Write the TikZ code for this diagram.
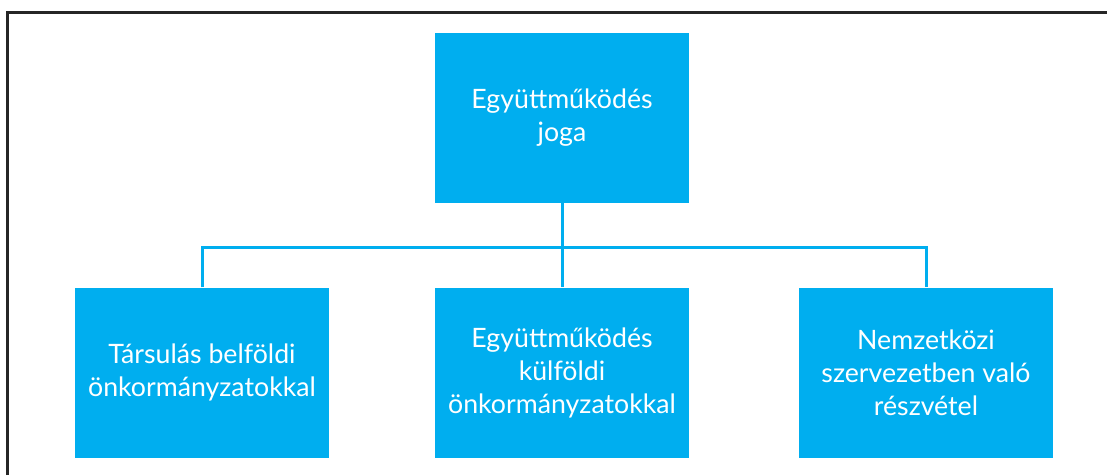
\documentclass[tikz,border=0pt]{standalone}
\usepackage{fontspec}
\setmainfont{Lato}
\usepackage{tikz}
\definecolor{boxblue}{RGB}{0,174,239}
\definecolor{frameline}{RGB}{38,38,38}

\begin{document}
\begin{tikzpicture}[x=1pt,y=1pt,
	box/.style={rectangle,fill=boxblue,text=white,align=center,minimum width=254pt,
		minimum height=170pt,font=\fontsize{26.7}{33}\selectfont,name=#1},
	link/.style={draw=boxblue,line width=3pt}]
				\useasboundingbox (0,0) rectangle (1107,475);
				\draw [frameline, line width=3pt] (7,0) -- (7,462.5) -- (1107,462.5);
				\node [box=top] at (562,357) {Együttműködés\\joga};
				\node [box=left] at (202,102.5) {Társulás belföldi\\önkormányzatokkal};
				\node [box=mid] at (562,102.5) {Együttműködés\\külföldi\\önkormányzatokkal};
				\node [box=right] at (926,102.5) {Nemzetközi\\szervezetben való\\részvétel};
				\coordinate (bus) at (562,228);
				\draw [link] (top.south) -- (mid.north);
				\draw [link] (left.north) |- (bus) -| (right.north);
			\end{tikzpicture}
\end{document}
